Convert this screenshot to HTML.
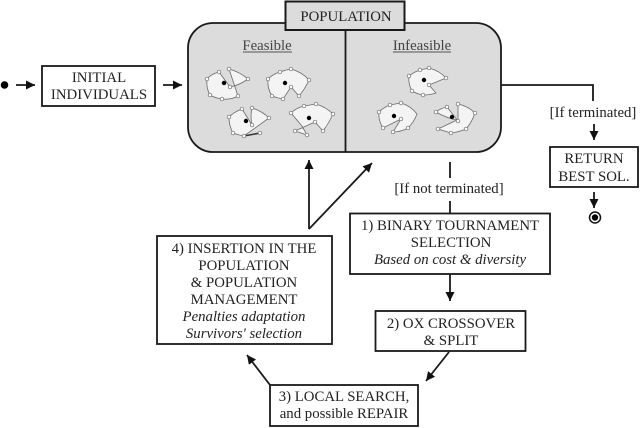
<!DOCTYPE html>
<html>
<head>
<meta charset="utf-8">
<style>
html,body{margin:0;padding:0;background:#fff;width:640px;height:428px;overflow:hidden}
svg{display:block;filter:blur(.3px)}
text{font-family:"Liberation Serif",serif;font-size:14.8px;fill:#222;text-anchor:middle}
.i{font-style:italic}
.b{fill:#fff;stroke:#1a1a1a;stroke-width:1.800}
.l{stroke:#1a1a1a;stroke-width:1.800;fill:none}
.p{fill:#f4f4f4;stroke:#6a6a6a;stroke-width:.8;fill-rule:nonzero}
.n{fill:#fff;stroke:#666;stroke-width:.7}
</style>
</head>
<body>
<svg width="640" height="428" viewBox="0 0 640 428" xmlns="http://www.w3.org/2000/svg">
<defs>
<marker id="a" markerUnits="userSpaceOnUse" markerWidth="11" markerHeight="11" refX="9" refY="4.5" orient="auto">
<path d="M0 0L9 4.5L0 9Z" fill="#111"/>
</marker>
</defs>

<rect x="188" y="23" width="313" height="129" rx="25" ry="25" fill="#dcdcdc" stroke="#1a1a1a" stroke-width="1.800"/>
<line class="l" x1="345.500" y1="30" x2="345.500" y2="152"/>
<rect x="285.500" y="1.500" width="119" height="28.500" fill="#dcdcdc" stroke="#1a1a1a" stroke-width="2"/>
<text x="346" y="21">POPULATION</text>
<text x="267" y="50" style="fill:#444">Feasible</text>
<line x1="243" y1="52" x2="292" y2="52" stroke="#555" stroke-width="1"/>
<text x="422" y="50" style="fill:#444">Infeasible</text>
<line x1="393" y1="52" x2="451" y2="52" stroke="#555" stroke-width="1"/>

<!-- Feasible polygons -->
<g>
<path class="p" d="M230,87 L219,72 Q211,74 207,79 Q206,88 210,95 Q215,98 222,99 Q231,100 238,96 L229,69 Q240,72 248,79 Q240,85 230,87Z"/>
<path class="p" d="M268,79 Q273,74 280,72 Q285,70 291,69 Q302,72 309,80 Q305,89 299,96 L291,87 L283,99 Q277,98 272,96 Q267,88 268,79Z"/>
<path class="p" d="M252,125 L242,109 Q234,112 229,117 Q229,126 233,133 Q238,135 244,136 L269,118 Q262,111 252,108 Q250,116 252,125Z"/>
<polyline points="244,136 260,133" fill="none" stroke="#333" stroke-width="1.500"/>
<path class="p" d="M291,113 Q296,108 304,106 Q310,105 316,104 Q326,107 333,114 Q329,123 323,131 L315,122 L295,131 L307,135 L302,126 L291,113Z"/>
<g class="n">
<circle cx="230" cy="87" r="1.800"/><circle cx="219" cy="72" r="1.800"/><circle cx="207" cy="79" r="1.800"/><circle cx="210" cy="95" r="1.800"/><circle cx="222" cy="99" r="1.800"/><circle cx="238" cy="96" r="1.800"/><circle cx="229" cy="69" r="1.800"/><circle cx="248" cy="79" r="1.800"/>
<circle cx="268" cy="79" r="1.800"/><circle cx="280" cy="72" r="1.800"/><circle cx="291" cy="69" r="1.800"/><circle cx="309" cy="80" r="1.800"/><circle cx="299" cy="96" r="1.800"/><circle cx="291" cy="87" r="1.800"/><circle cx="283" cy="99" r="1.800"/><circle cx="272" cy="96" r="1.800"/>
<circle cx="252" cy="125" r="1.800"/><circle cx="242" cy="109" r="1.800"/><circle cx="229" cy="117" r="1.800"/><circle cx="233" cy="133" r="1.800"/><circle cx="244" cy="136" r="1.800"/><circle cx="260" cy="133" r="1.800"/><circle cx="269" cy="118" r="1.800"/><circle cx="252" cy="108" r="1.800"/>
<circle cx="291" cy="113" r="1.800"/><circle cx="304" cy="106" r="1.800"/><circle cx="316" cy="104" r="1.800"/><circle cx="333" cy="114" r="1.800"/><circle cx="323" cy="131" r="1.800"/><circle cx="315" cy="122" r="1.800"/><circle cx="295" cy="131" r="1.800"/><circle cx="307" cy="135" r="1.800"/>
</g>
<circle cx="224" cy="83" r="2.200" fill="#000"/>
<circle cx="285" cy="83" r="2.200" fill="#000"/>
<circle cx="246" cy="121" r="2.200" fill="#000"/>
<circle cx="309" cy="118" r="2.200" fill="#000"/>
</g>

<!-- Infeasible polygons -->
<g>
<path class="p" d="M409,76 Q414,72 420,70 Q424,69 429,68 Q440,71 446,78 L429,85 L436,93 Q430,95 423,95 Q417,94 412,91 Q408,84 409,76Z"/>
<path class="p" d="M379,112 Q384,107 390,105 Q395,104 401,103 Q411,106 417,114 Q414,122 408,128 Q401,132 393,132 L401,119 L383,128 Q378,120 379,112Z"/>
<path class="p" d="M436,112 Q441,108 447,107 L458,121 L458,104 Q468,106 475,113 Q472,122 466,129 Q459,132 451,133 L438,129 L457,120 Q446,118 436,112Z"/>
<g class="n">
<circle cx="409" cy="76" r="1.800"/><circle cx="420" cy="70" r="1.800"/><circle cx="429" cy="68" r="1.800"/><circle cx="446" cy="78" r="1.800"/><circle cx="429" cy="85" r="1.800"/><circle cx="423" cy="95" r="1.800"/><circle cx="412" cy="91" r="1.800"/>
<circle cx="379" cy="112" r="1.800"/><circle cx="390" cy="105" r="1.800"/><circle cx="401" cy="103" r="1.800"/><circle cx="408" cy="128" r="1.800"/><circle cx="393" cy="132" r="1.800"/><circle cx="401" cy="119" r="1.800"/><circle cx="383" cy="128" r="1.800"/>
<circle cx="436" cy="112" r="1.800"/><circle cx="447" cy="107" r="1.800"/><circle cx="458" cy="104" r="1.800"/><circle cx="458" cy="121" r="1.800"/><circle cx="475" cy="113" r="1.800"/><circle cx="466" cy="129" r="1.800"/><circle cx="451" cy="133" r="1.800"/><circle cx="438" cy="129" r="1.800"/>
</g>
<circle cx="424" cy="80" r="2.200" fill="#000"/>
<circle cx="394" cy="116" r="2.200" fill="#000"/>
<circle cx="452" cy="117" r="2.200" fill="#000"/>
</g>

<!-- Start + initial -->
<circle cx="4.500" cy="85" r="3.800" fill="#000"/>
<line class="l" x1="16" y1="85" x2="35" y2="85" marker-end="url(#a)"/>
<rect class="b" x="42" y="66" width="113" height="40"/>
<text x="99" y="82">INITIAL</text>
<text x="99" y="99">INDIVIDUALS</text>
<line class="l" x1="163" y1="85" x2="182" y2="85" marker-end="url(#a)"/>

<!-- Terminated -->
<polyline class="l" points="501,85 593,85 593,101"/>
<text x="593" y="117">[If terminated]</text>
<line class="l" x1="594" y1="124" x2="594" y2="140" marker-end="url(#a)"/>
<rect class="b" x="550" y="147" width="88" height="40"/>
<text x="594" y="163">RETURN</text>
<text x="594" y="181">BEST SOL.</text>
<line class="l" x1="594" y1="192" x2="594" y2="208" marker-end="url(#a)"/>
<circle cx="595" cy="217.500" r="5.500" fill="#fff" stroke="#111" stroke-width="1.500"/>
<circle cx="595" cy="217.500" r="3.200" fill="#000"/>

<!-- Not terminated -->
<line class="l" x1="450" y1="162" x2="450" y2="178"/>
<text x="449" y="193">[If not terminated]</text>
<line class="l" x1="450" y1="201" x2="450" y2="213"/>

<!-- 1 -->
<rect class="b" x="350" y="213.500" width="200" height="60.500"/>
<text x="450" y="230">1) BINARY TOURNAMENT</text>
<text x="451" y="247">SELECTION</text>
<text class="i" x="450" y="264">Based on cost &amp; diversity</text>
<line class="l" x1="450" y1="274" x2="450" y2="301" marker-end="url(#a)"/>

<!-- 2 -->
<rect class="b" x="375.500" y="311" width="150" height="40"/>
<text x="451" y="328">2) OX CROSSOVER</text>
<text x="451" y="345">&amp; SPLIT</text>
<line class="l" x1="449" y1="352" x2="426" y2="381" marker-end="url(#a)"/>

<!-- 3 -->
<rect class="b" x="270" y="385" width="148" height="41"/>
<text x="344" y="401">3) LOCAL SEARCH,</text>
<text x="344" y="418">and possible REPAIR</text>
<line class="l" x1="270" y1="385" x2="247" y2="355" marker-end="url(#a)"/>

<!-- 4 -->
<rect class="b" x="157" y="236" width="175" height="108"/>
<text x="244" y="253">4) INSERTION IN THE</text>
<text x="244" y="270">POPULATION</text>
<text x="244" y="287">&amp; POPULATION</text>
<text x="244" y="304">MANAGEMENT</text>
<text class="i" x="244" y="321">Penalties adaptation</text>
<text class="i" x="244" y="338">Survivors' selection</text>
<line class="l" x1="309" y1="229" x2="309" y2="160" marker-end="url(#a)"/>
<line class="l" x1="309" y1="229" x2="372" y2="163" marker-end="url(#a)"/>
</svg>
</body>
</html>
